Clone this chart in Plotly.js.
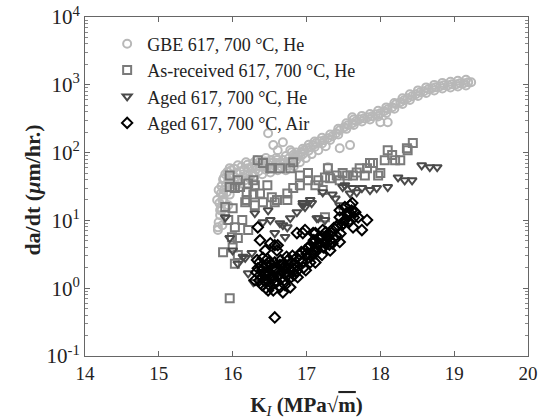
<!DOCTYPE html>
<html>
<head>
<meta charset="utf-8">
<script src="https://cdn.plot.ly/plotly-3.0.1.min.js"></script>
<style>html,body{margin:0;padding:0;background:#fff;} #chart{width:539px;height:420px;}</style>
</head>
<body>
<div id="chart"></div>
<script>
// Series names
const seriesNames = ["GBE 617, 700 °C, He", "As-received 617, 700 °C, He", "Aged 617, 700 °C, He", "Aged 617, 700 °C, Air"];

// GBE 617, 700 °C, He (light gray circles)
const gbeK = [15.80,15.81,15.83,15.84,15.86,15.87,15.88,15.91,15.94,15.96,16.00,16.05,16.10,16.15,16.21,16.26,16.32,16.37,16.42,16.48,16.53,16.59,16.64,16.70,16.75,16.80,16.84,16.88,16.93,16.97,17.01,17.05,17.09,17.13,17.18,17.24,17.29,17.35,17.40,17.45,17.51,17.56,17.62,17.67,17.72,17.78,17.83,17.89,17.94,18.00,18.05,18.10,18.16,18.21,18.27,18.32,18.37,18.43,18.48,18.54,18.59,18.65,18.70,18.75,18.81,18.86,18.92,18.97,19.03,19.08,19.13,19.19,19.23,
  15.86,15.90,15.94,15.96,15.99,16.05,16.10,16.17,16.23,16.30,16.40,16.51,16.61,16.72,16.83,16.91,16.99,17.07,17.16,17.26,
  15.96,16.07,16.18,16.32,16.45,16.59,16.72,15.79,15.81,15.88,
  16.48,16.55,16.68,16.78,16.61,16.80,17.62,18.00,18.10,17.45,17.59,17.29,15.80,15.83,
  16.95,17.03,17.11,17.21,17.32,17.43,17.54,17.64,17.75,17.86,17.97,18.08,18.19,18.30,18.40,18.51,18.62,18.73,18.84,18.95,19.05,19.16,
  16.95,17.03,17.11,17.21,17.32,17.43,17.54,17.64,17.75,17.86,17.97,18.08,18.19,18.30,18.40,18.51,18.62,18.73,18.84,18.95,19.05,19.16,
  15.82,15.84,15.85,15.87,15.90,15.93,15.98,16.02,16.12,16.20,16.28,16.36,16.44,16.52,16.60,16.68,16.76,16.82,16.86,
  15.85,15.88,15.92,15.97,16.02,16.08,16.14,16.20,16.27,16.35,16.45,16.55,16.66,16.76,16.86,16.92];
const gbeRate = [7.2,9.4,11.9,15.1,20,24,28,33,39,43,46,50,53,55,59,61,63,63,65,67,70,70,70,70,72,77,86,92,101,108,116,120,129,138,147,152,163,174,193,214,237,254,272,290,311,322,333,344,368,381,408,437,468,517,554,593,634,679,727,778,805,861,891,922,953,986,986,1021,1021,1057,1057,1092,1092,
  8.5,11.9,16.7,24,30,33,35,39,42,45,48,51,55,55,63,72,83,95,108,124,
  59,65,72,77,83,83,89,20,28,42,
  193,129,142,108,108,101,333,281,281,116,129,61,7.9,14.1,
  114,130,146,165,185,224,271,309,348,372,413,464,539,633,723,827,916,997,1067,1106,1144,1183,
  95,107,121,136,153,185,224,255,287,307,341,384,445,523,597,684,757,824,882,914,945,977,
  18,25,32,40,48,52,55,58,62,66,70,72,74,78,78,78,82,92,100,
  14,19,26,34,38,41,44,47,50,53,56,60,62,64,78,88];

// As-received 617, 700 °C, He (medium gray squares)
const arK = [15.96,15.87,16.03,16.00,16.07,15.99,16.07,15.94,16.03,16.13,16.21,15.90,16.00,16.17,16.30,16.41,15.96,16.07,16.21,16.30,16.47,16.03,16.19,16.28,16.37,16.53,16.57,16.74,16.82,16.91,17.02,17.16,17.25,16.34,16.41,16.53,16.64,16.82,16.60,16.74,16.51,17.02,16.78,17.32,17.41,17.49,17.63,17.72,17.79,17.86,17.90,18.00,18.06,18.10,18.20,18.36,18.44,17.29,17.55,17.68,17.82,17.97,18.16,18.27,18.37,17.22,17.25,16.95,17.09,15.96,16.10,16.28,16.19,17.12,17.45,16.91];
const arRate = [0.71,3.4,2.3,4.0,3.1,5.65,5.5,10.1,7.9,10.1,7.2,15.7,15.1,18.5,16.7,18.5,46,39,35,33,33,30,26,24,25,22,18.5,25,30,33,39,39,43,77,70,59,59,72,20,20,59,50,59,42,46,50,46,59,46,70,70,50,77,108,77,116,138,59,46,51,59,46,92,77,108,28,11.1,2.4,3.1,31,31,39,20,33,39,46];

// Aged 617, 700 °C, He (dark gray down-triangles)
const ahK = [18.56,18.67,18.77,18.24,18.33,18.43,18.10,17.95,17.86,17.75,17.68,17.59,17.52,17.05,16.95,17.22,17.07,16.98,17.16,17.25,16.30,16.41,16.68,16.57,16.71,16.26,16.14,15.90,16.00,16.17,16.07,16.21,16.28,16.87,16.78,16.48,17.39,17.45,17.35,16.51,16.64,16.74,15.96,17.49,17.62,16.95,17.14];
const ahRate = [65,61,61,43,39,39,31,30,28,30,26,25,33,20,18,26,18,15.7,10.8,10.1,12.8,9.4,8.5,6.5,5.7,3.3,2.9,11.1,3.6,2.8,2.3,1.66,1.23,13.2,10.8,14.1,21,16.7,24,10.1,9.1,7.9,5.5,31,30,16.7,10.8];

// Aged 617, 700 °C, Air (black diamonds)
const aaK = [16.57,16.48,16.55,16.68,16.30,16.34,16.37,16.44,16.57,16.61,16.51,16.60,
  16.34,16.37,16.40,16.42,16.45,16.48,16.51,16.53,16.56,16.59,16.61,16.64,16.67,16.70,16.72,16.75,16.78,16.80,16.83,16.86,16.88,16.40,16.45,16.51,16.64,16.71,16.78,16.88,16.32,16.36,16.41,
  16.44,16.57,16.68,16.74,16.82,16.55,16.49,
  16.91,16.94,16.98,17.02,17.05,17.07,17.10,17.13,17.16,17.18,17.21,17.24,17.26,17.29,17.32,17.35,17.37,17.40,17.41,17.45,17.48,17.52,17.56,17.59,17.62,17.63,17.66,17.70,17.75,17.82,17.09,16.95,17.12,17.22,16.87,17.05,17.25,16.98,17.52,17.59,17.45,
  16.99,17.12,17.21,17.32,17.45,
  16.33,16.36,16.39,16.43,16.46,16.47,16.50,16.52,16.54,16.58,16.60,16.63,16.65,16.69,16.71,16.73,16.76,16.79,16.81,16.84,16.87,16.90,16.93,16.96,17.00,17.03,17.06,17.09,17.12,17.15,17.19,17.23,17.27,17.31,17.34,17.38,17.42,17.46,17.50,17.55,17.58,17.61,17.64];
const aaRate = [0.37,0.93,0.93,0.87,1.31,7.9,5.1,3.6,4.3,4.3,4.6,3.6,
  1.97,1.56,1.84,1.31,2.2,1.72,1.40,1.97,1.19,1.84,1.50,2.2,1.72,1.31,1.97,2.6,1.84,2.4,1.56,2.8,2.1,1.11,1.0,1.07,1.03,1.11,1.03,1.45,1.72,2.4,2.8,
  1.56,2.4,1.97,1.56,1.97,1.50,2.4,
  3.1,2.4,3.6,2.8,4.3,3.4,5.1,3.9,5.5,4.5,5.85,4.8,6.7,5.5,5.1,4.6,7.7,6.0,7.9,11.1,8.5,10.1,11.9,12.8,18,7.9,13.2,11.1,7.2,10.1,6.5,6.5,6.5,7.2,6.5,2.4,4.6,7.2,15.7,16.7,14.1,
  1.84,2.4,3.1,3.6,4.8,
  2.6,1.3,2.1,1.7,1.3,2.7,1.6,2.3,1.35,2.0,1.25,1.6,2.6,2.3,1.6,2.9,2.2,1.45,3.0,2.3,1.8,2.6,3.4,2.0,3.2,4.0,3.0,4.6,3.4,4.4,5.4,4.0,6.0,4.4,6.5,5.2,8.5,6.4,9.0,13,9.5,14,11];

// Axis ticks
const xTicks = [14,15,16,17,18,19,20];
const yTickVals = [0.1,1,10,100,1000,10000];
const yTickText = ["10<sup>-1</sup>","10<sup>0</sup>","10<sup>1</sup>","10<sup>2</sup>","10<sup>3</sup>","10<sup>4</sup>"];
const yTitle = "<b>da/dt</b> <b>(<i>μ</i>m/hr.)</b>";
const xTitle = "<b>K</b><sub><i>I</i></sub> <b>(MPa√<span style=\"text-decoration:overline\">m</span>)</b>";

const minorVals = [];
for (let d = -1; d < 4; d++) for (let m = 2; m <= 9; m++) minorVals.push(m * Math.pow(10, d));

function tr(name, x, y, symbol, color) {
  return {type:'scatter', mode:'markers', name:name, x:x, y:y,
    marker:{symbol:symbol, size:8, color:color, line:{color:color, width:2}}};
}

const data = [
  tr(seriesNames[0], gbeK, gbeRate, 'circle-open', '#b8b8b8'),
  tr(seriesNames[1], arK, arRate, 'square-open', '#7a7a7a'),
  tr(seriesNames[2], ahK, ahRate, 'triangle-down-open', '#4a4a4a'),
  tr(seriesNames[3], aaK, aaRate, 'diamond-open', '#000000')
];

const SERIF = "'Liberation Serif', 'Times New Roman', Times, serif";
const axisCommon = {showline:true, linecolor:'#666', linewidth:1, mirror:'ticks', ticks:'inside',
  ticklen:5, tickcolor:'#666', showgrid:false, zeroline:false};

const layout = {
  width:539, height:420,
  margin:{l:85, r:11, t:17, b:64},
  paper_bgcolor:'#fff', plot_bgcolor:'#fff',
  font:{family:SERIF, color:'#222'},
  showlegend:true,
  legend:{x:0.05, y:0.975, xanchor:'left', yanchor:'top', bgcolor:'rgba(0,0,0,0)',
    font:{size:18, family:SERIF, color:'#222'}, itemwidth:30, tracegroupgap:0},
  xaxis:Object.assign({}, axisCommon, {range:[14,20], tickmode:'array', tickvals:xTicks,
    ticktext:xTicks.map(String), tickfont:{size:19, family:SERIF},
    title:{text:xTitle, font:{size:21, family:SERIF}, standoff:14}}),
  yaxis:Object.assign({}, axisCommon, {type:'log', range:[-1,4], tickmode:'array', tickvals:yTickVals,
    ticktext:yTickText, tickfont:{size:21, family:SERIF},
    minor:{tickmode:'array', tickvals:minorVals, ticks:'inside', ticklen:3, tickcolor:'#888'}}),
  annotations:[{xref:'paper', yref:'paper', x:-0.118, y:0.49, xanchor:'center', yanchor:'middle',
    textangle:-90, showarrow:false, text:yTitle, font:{size:22, family:SERIF, color:'#222'}}]
};

Plotly.newPlot('chart', data, layout, {staticPlot:true, displayModeBar:false});
</script>
</body>
</html>
